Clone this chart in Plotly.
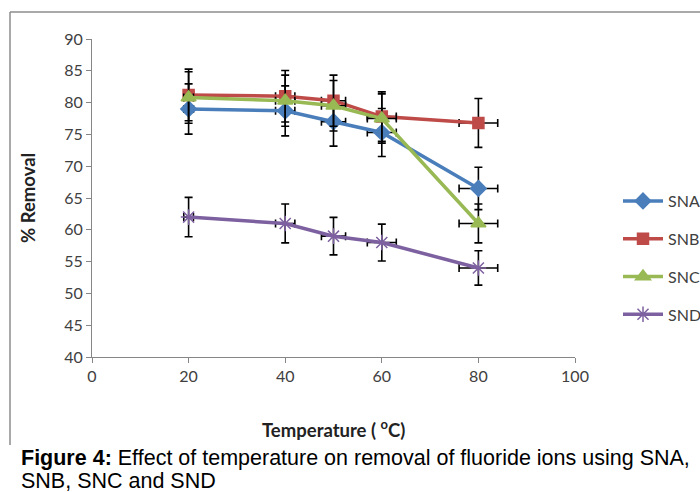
import plotly.graph_objects as go

temperature = [20, 40, 50, 60, 80]
sna = [79.0, 78.7, 77.0, 75.3, 66.5]
snb = [81.2, 81.0, 80.3, 77.8, 76.8]
snc = [80.8, 80.3, 79.5, 77.5, 61.0]
snd = [62.0, 61.0, 59.0, 58.0, 54.0]
series_names = ["SNA", "SNB", "SNC", "SND"]
error_percent = 5

x_ticks = [0, 20, 40, 60, 80, 100]
y_ticks = [40, 45, 50, 55, 60, 65, 70, 75, 80, 85, 90]

styles = {
    "SNA": dict(color="#4A7EBB", symbol="diamond", size=12),
    "SNB": dict(color="#BE4B48", symbol="square", size=11),
    "SNC": dict(color="#98B954", symbol="triangle-up", size=13),
    "SND": dict(color="#7D60A0", symbol="asterisk-open", size=13),
}

L, T, W, H = 92, 39, 483, 318


def px(xp):
    return (xp - L) / W


def py(yp):
    return (T + H - yp) / H


fig = go.Figure()
for name, vals in zip(series_names, [sna, snb, snc, snd]):
    st = styles[name]
    fig.add_trace(go.Scatter(
        x=temperature, y=vals, name=name, mode="lines+markers",
        legendgroup=name,
        line=dict(color=st["color"], width=3.5),
        marker=dict(symbol=st["symbol"], size=st["size"], color=st["color"],
                    line=dict(color=st["color"], width=1.5)),
        error_y=dict(type="percent", value=error_percent, color="black", thickness=1.6, width=4),
        error_x=dict(type="percent", value=error_percent, color="black", thickness=1.6, width=4),
    ))

fig.update_layout(
    width=700, height=492,
    margin=dict(l=L, r=700 - L - W, t=T, b=492 - T - H, autoexpand=False),
    paper_bgcolor="white", plot_bgcolor="white",
    font=dict(family="Lato, Open Sans, sans-serif", size=16, color="#404040"),
    showlegend=True,
    legend=dict(x=px(618), y=py(258), xanchor="left", yanchor="middle",
                traceorder="grouped", tracegroupgap=14,
                font=dict(size=16, color="#404040"), itemwidth=40,
                bgcolor="rgba(0,0,0,0)"),
    xaxis=dict(range=[0, 100], tickvals=x_ticks, showgrid=False, zeroline=False,
               showline=True, linecolor="#868686", linewidth=1, automargin=False,
               ticks="outside", ticklen=5, tickcolor="#868686",
               tickfont=dict(size=16, color="#404040")),
    yaxis=dict(range=[40, 90], tickvals=y_ticks, showgrid=False, zeroline=False,
               showline=True, linecolor="#868686", linewidth=1, automargin=False,
               ticks="outside", ticklen=5, tickcolor="#868686",
               tickfont=dict(size=16, color="#404040")),
)

# axis titles
fig.add_annotation(xref="paper", yref="paper", x=px(333), y=py(428), xanchor="center", yanchor="middle",
                   text="<b>Temperature ( <sup>o</sup>C)</b>", showarrow=False,
                   font=dict(family="Lato, Open Sans, sans-serif", size=18.5, color="#222222"))
fig.add_annotation(xref="paper", yref="paper", x=px(28), y=py(198), xanchor="center", yanchor="middle",
                   text="<b>% Removal</b>", showarrow=False, textangle=-90,
                   font=dict(family="Lato, Open Sans, sans-serif", size=18.5, color="#222222"))

# frame lines (top and left)
fig.add_shape(type="line", xref="paper", yref="paper", x0=px(10), x1=px(702), y0=py(12), y1=py(12),
              line=dict(color="#8C8C8C", width=1.5))
fig.add_shape(type="line", xref="paper", yref="paper", x0=px(10), x1=px(10), y0=py(12), y1=py(445),
              line=dict(color="#8C8C8C", width=1.5))

# caption
fig.add_annotation(xref="paper", yref="paper", x=px(19), y=py(458), xanchor="left", yanchor="middle",
                   text="<b>Figure 4:</b> Effect of temperature on removal of fluoride ions using SNA,",
                   showarrow=False, font=dict(family="Liberation Sans, Arial, sans-serif", size=21.5, color="black"))
fig.add_annotation(xref="paper", yref="paper", x=px(19), y=py(481), xanchor="left", yanchor="middle",
                   text="SNB, SNC and SND",
                   showarrow=False, font=dict(family="Liberation Sans, Arial, sans-serif", size=21.5, color="black"))

fig.write_html("out.html", config={"displayModeBar": False},
               post_script="document.body.style.margin='0';document.body.style.padding='0';")
